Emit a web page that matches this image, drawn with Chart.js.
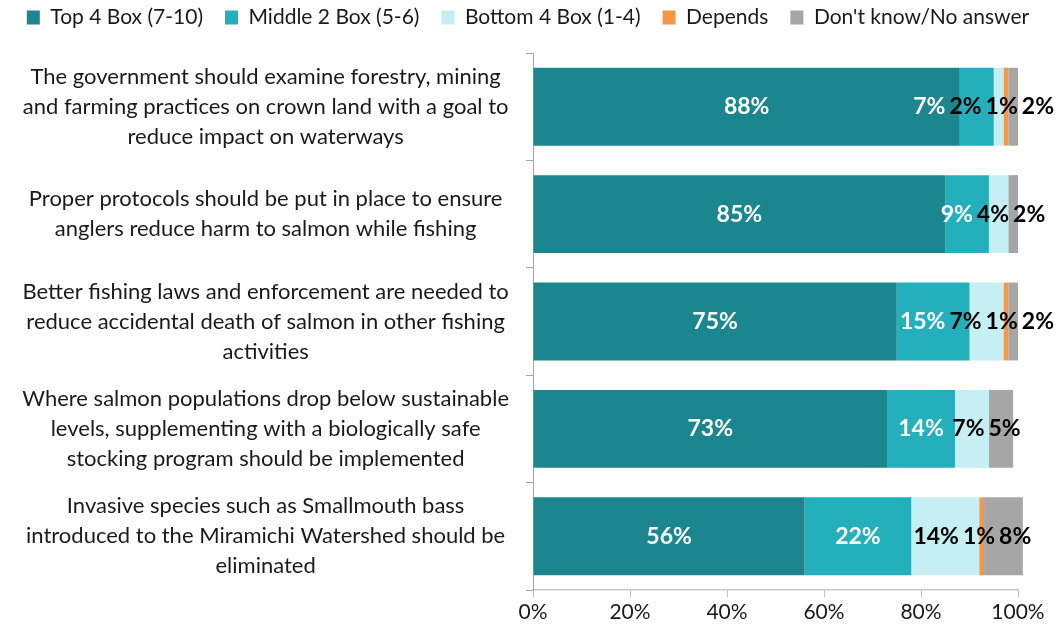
<!DOCTYPE html>
<html>
<head>
<meta charset="utf-8">
<script src="https://cdn.jsdelivr.net/npm/chart.js@4.4.1/dist/chart.umd.min.js"></script>
<style>
  html, body { margin: 0; padding: 0; background: #ffffff; }
  #wrap { width: 1056px; height: 633px; }
</style>
</head>
<body>
<div id="wrap"><canvas id="c" width="1056" height="633"></canvas></div>
<script>
// Survey statements (one array of wrapped lines per statement)
const statements = [
  ["The government should examine forestry, mining", "and farming practices on crown land with a goal to", "reduce impact on waterways"],
  ["Proper protocols should be put in place to ensure", "anglers reduce harm to salmon while fishing"],
  ["Better fishing laws and enforcement are needed to", "reduce accidental death of salmon in other fishing", "activities"],
  ["Where salmon populations drop below sustainable", "levels, supplementing with a biologically safe", "stocking program should be implemented"],
  ["Invasive species such as Smallmouth bass", "introduced to the Miramichi Watershed should be", "eliminated"]
];

// Share of respondents (%) per response group
const top4Box    = [88, 85, 75, 73, 56];
const middle2Box = [7, 9, 15, 14, 22];
const bottom4Box = [2, 4, 7, 7, 14];
const depends    = [1, 0, 1, 0, 1];
const dontKnow   = [2, 2, 2, 5, 8];

const seriesNames = ["Top 4 Box (7-10)", "Middle 2 Box (5-6)", "Bottom 4 Box (1-4)", "Depends", "Don't know/No answer"];
const xTickValues = [0, 20, 40, 60, 80, 100];

const seriesColors = ["#1B868D", "#23AFBB", "#C5EFF2", "#F79646", "#A6A6A6"];
const labelColors  = ["#ffffff", "#ffffff", "#000000", "#000000", "#000000"];

const FONT = "Lato, 'Open Sans', sans-serif";

// Value labels centred on each segment; labels that would collide are
// gathered into a group and laid side by side around their mean position.
const segmentLabels = {
  id: 'segmentLabels',
  afterDatasetsDraw(chart) {
    const ctx = chart.ctx;
    const gap = 2;
    const maxRight = chart.width;
    ctx.save();
    ctx.font = "bold 23px " + FONT;
    ctx.textAlign = 'center';
    ctx.textBaseline = 'middle';
    chart.data.labels.forEach((_, i) => {
      const items = [];
      chart.data.datasets.forEach((ds, d) => {
        const v = ds.data[i];
        if (!v) return;
        const el = chart.getDatasetMeta(d).data[i];
        const text = v + '%';
        items.push({
          text,
          c: (el.x + el.base) / 2,
          y: el.y,
          w: ctx.measureText(text).width + gap * 2,
          color: labelColors[d]
        });
      });
      const place = (cl) => {
        let off = 0, sum = 0;
        cl.items.forEach(it => { it.off = off + it.w / 2; off += it.w; sum += it.c - it.off; });
        cl.width = off;
        cl.left = sum / cl.items.length;
        if (cl.left + cl.width > maxRight) cl.left = maxRight - cl.width;
      };
      let groups = items.map(it => ({ items: [it] }));
      groups.forEach(place);
      let changed = true;
      while (changed) {
        changed = false;
        for (let k = 0; k < groups.length - 1; k++) {
          const a = groups[k], b = groups[k + 1];
          if (a.left + a.width > b.left + 0.5) {
            const m = { items: a.items.concat(b.items) };
            place(m);
            groups.splice(k, 2, m);
            changed = true;
            break;
          }
        }
      }
      groups.forEach(g => g.items.forEach(it => {
        ctx.fillStyle = it.color;
        ctx.fillText(it.text, g.left + it.off, it.y);
      }));
    });
    ctx.restore();
  }
};

// Keep the legend row near the top edge while the plot starts lower
const legendOffset = {
  id: 'legendOffset',
  afterLayout(chart) {
    if (chart.legend) {
      chart.legend.top -= 15;
      chart.legend.bottom -= 15;
    }
  }
};

const seriesData = [top4Box, middle2Box, bottom4Box, depends, dontKnow];

new Chart(document.getElementById('c'), {
  type: 'bar',
  data: {
    labels: statements,
    datasets: seriesData.map((vals, d) => ({
      label: seriesNames[d],
      data: vals,
      backgroundColor: seriesColors[d],
      borderWidth: 0,
      barPercentage: 0.725,
      categoryPercentage: 1.0,
      clip: false
    }))
  },
  options: {
    indexAxis: 'y',
    responsive: false,
    animation: false,
    devicePixelRatio: 1,
    layout: { padding: { top: 0, left: 0, right: 0, bottom: 0 } },
    plugins: {
      legend: {
        position: 'top',
        align: 'center',
        labels: {
          boxWidth: 13,
          boxHeight: 14,
          padding: 22,
          color: '#1a1a1a',
          font: { family: FONT, size: 21 }
        }
      },
      tooltip: { enabled: false }
    },
    scales: {
      x: {
        stacked: true,
        min: 0,
        max: 100,
        afterBuildTicks(scale) { scale.ticks = xTickValues.map(v => ({ value: v })); },
        afterFit(scale) { scale.height = 43; scale.paddingLeft = 0; scale.paddingRight = 0; },
        ticks: {
          callback: v => v + '%',
          color: '#1a1a1a',
          padding: 3,
          maxRotation: 0,
          font: { family: FONT, size: 21 }
        },
        grid: { drawOnChartArea: false, drawTicks: true, tickLength: 7, color: '#bfbfbf' },
        border: { color: '#c8c8c8', width: 1.5 }
      },
      y: {
        stacked: true,
        afterFit(scale) { scale.width = 533; scale.paddingTop = 0; scale.paddingBottom = 0; },
        ticks: {
          crossAlign: 'center',
          padding: 17,
          color: '#1a1a1a',
          autoSkip: false,
          font: { family: FONT, size: 22, lineHeight: 1.36 }
        },
        grid: { offset: true, drawOnChartArea: false, drawTicks: true, tickLength: 7, color: '#a6a6a6' },
        border: { color: '#a6a6a6', width: 1 }
      },
      // empty right-hand margin so the plot ends at 100%
      yMargin: {
        type: 'category',
        position: 'right',
        afterFit(scale) { scale.width = 38; scale.paddingTop = 0; scale.paddingBottom = 0; },
        ticks: { display: false },
        grid: { display: false },
        border: { display: false }
      }
    }
  },
  plugins: [segmentLabels, legendOffset]
});
</script>
</body>
</html>
